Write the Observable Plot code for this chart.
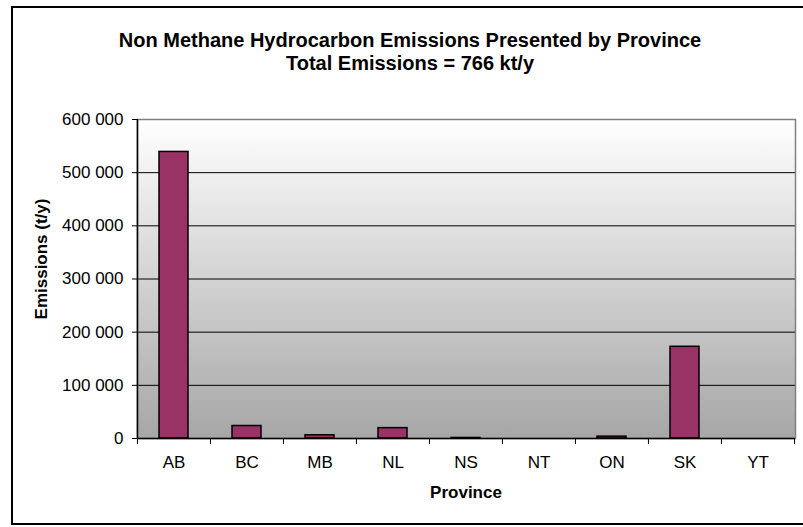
<!DOCTYPE html>
<html>
<head>
<meta charset="utf-8">
<script src="https://cdn.jsdelivr.net/npm/d3@7"></script>
<script src="https://cdn.jsdelivr.net/npm/@observablehq/plot@0.6"></script>
<style>
  body { margin: 0; background: #fff; font-family: "Liberation Sans", Arial, sans-serif; }
  #chart { position: relative; width: 803px; height: 527px; overflow: hidden; }
  #border { position: absolute; left: 11px; top: 6px; width: 810px; height: 519px; border: 2px solid #000; box-sizing: border-box; }
  .title { position: absolute; left: 11px; width: 798px; text-align: center; font-weight: bold; font-size: 20px; line-height: 24px; }
  #plot { position: absolute; left: 0; top: 0; }
  #ylab { position: absolute; left: 42px; top: 259px; transform: translate(-50%, -50%) rotate(-90deg); font-weight: bold; font-size: 17px; white-space: nowrap; }
  #xlab { position: absolute; left: 466px; top: 493px; transform: translate(-50%, -50%); font-weight: bold; font-size: 17px; white-space: nowrap; }
</style>
</head>
<body>
<div id="chart">
  <div id="border"></div>
  <div class="title" style="top:28px">Non Methane Hydrocarbon Emissions Presented by Province</div>
  <div class="title" style="top:51px">Total Emissions = 766 kt/y</div>
  <div id="plot"></div>
  <div id="ylab">Emissions (t/y)</div>
  <div id="xlab">Province</div>
</div>
<script>
// Non-methane hydrocarbon emissions by province (tonnes per year)
const provinces = ["AB", "BC", "MB", "NL", "NS", "NT", "ON", "SK", "YT"];
const emissions = [539000, 23500, 6000, 19500, 1000, 0, 3500, 172500, 0];
const yTicks = [0, 100000, 200000, 300000, 400000, 500000, 600000];

const data = provinces.map((p, i) => ({province: p, value: emissions[i]}));

const W = 803, H = 527;
const mL = 137, mR = 8, mT = 119, mB = 89;
const step = (W - mL - mR) / provinces.length;
const fmt = d => d3.format(",")(d).replace(/,/g, " ");

const chart = Plot.plot({
  width: W,
  height: H,
  marginLeft: mL,
  marginRight: mR,
  marginTop: mT,
  marginBottom: mB,
  style: {fontFamily: "'Liberation Sans', Arial, sans-serif", fontSize: "17px", color: "#000", background: "transparent"},
  x: {domain: provinces, paddingInner: 0.6, paddingOuter: 0.3, align: 0.5},
  y: {domain: [0, 600000]},
  marks: [
    Plot.frame({fill: "url(#plotBg)", stroke: null}),
    Plot.ruleY(yTicks.filter(v => v > 0 && v < 600000), {stroke: "#000", strokeWidth: 1}),
    Plot.frame({stroke: "#808080", strokeWidth: 1.5}),
    // provinces with no emissions get no bar
    Plot.barY(data, {filter: d => d.value > 0, x: "province", y: "value", fill: "#993366", stroke: "#000", strokeWidth: 1.5}),
    Plot.ruleY([0], {stroke: "#000", strokeWidth: 1.5}),
    Plot.ruleX([provinces[0]], {dx: -step / 2, stroke: "#000", strokeWidth: 1.5}),
    Plot.axisY({ticks: yTicks, tickSize: 5, tickPadding: 9, tickFormat: fmt, fontSize: 17, label: null}),
    Plot.axisX({tickSize: 6, dx: -step / 2, tickFormat: () => "", label: null}),
    Plot.axisX({ticks: [provinces[provinces.length - 1]], tickSize: 6, dx: step / 2, tickFormat: () => "", label: null}),
    Plot.axisX({tickSize: 0, tickPadding: 17, fontSize: 17, label: null})
  ]
});

// vertical white-to-grey fill of the plotting area
const defs = d3.select(chart).insert("defs", ":first-child");
const grad = defs.append("linearGradient")
  .attr("id", "plotBg").attr("x1", 0).attr("y1", 0).attr("x2", 0).attr("y2", 1);
grad.append("stop").attr("offset", "0%").attr("stop-color", "#ffffff");
grad.append("stop").attr("offset", "100%").attr("stop-color", "#a6a6a6");

document.getElementById("plot").appendChild(chart);
</script>
</body>
</html>
